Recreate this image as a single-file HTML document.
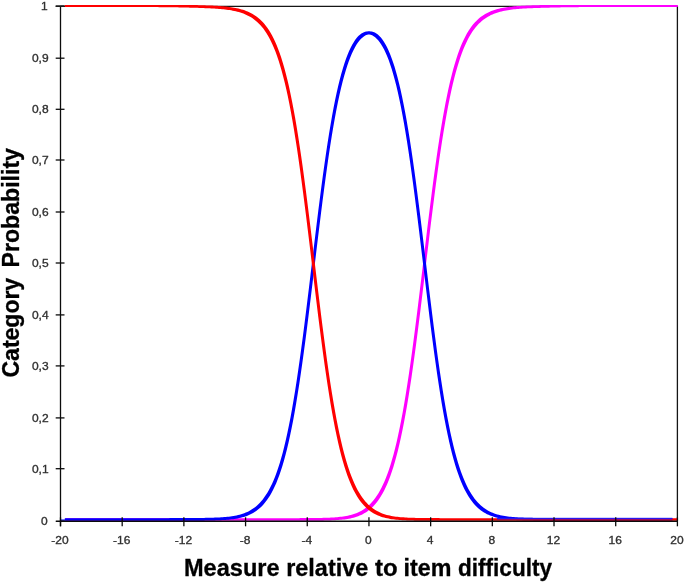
<!DOCTYPE html>
<html><head><meta charset="utf-8"><title>Category Probability</title>
<style>html,body{margin:0;padding:0;background:#fff;}svg{display:block}text{font-family:"Liberation Sans",sans-serif;}</style></head><body>
<svg width="685" height="582" viewBox="0 0 685 582">
<rect width="685" height="582" fill="#fff"/>
<defs><clipPath id="c"><path d="M60.50 5.0 H677.80 V521.10 H60.50 V519.4 H64.8 V100 H60.50 Z"/></clipPath></defs>
<path d="M60.50 6.30 H677.40 V521.30" fill="none" stroke="#151515" stroke-width="1.3"/>
<g clip-path="url(#c)" stroke="none">
<polygon fill="#ff00ff" points="65.32,520.85 65.32,518.15 66.85,518.15 68.37,518.15 69.90,518.15 71.43,518.15 72.95,518.15 74.48,518.15 76.01,518.15 77.53,518.15 79.06,518.15 80.59,518.15 82.11,518.15 83.64,518.15 85.17,518.15 86.69,518.15 88.22,518.15 89.75,518.15 91.28,518.15 92.80,518.15 94.33,518.15 95.86,518.15 97.38,518.15 98.91,518.15 100.44,518.15 101.96,518.15 103.49,518.15 105.02,518.15 106.54,518.15 108.07,518.15 109.60,518.15 111.12,518.15 112.65,518.15 114.18,518.15 115.70,518.15 117.23,518.15 118.76,518.15 120.28,518.15 121.81,518.15 123.34,518.15 124.87,518.15 126.39,518.15 127.92,518.15 129.45,518.15 130.97,518.15 132.50,518.15 134.03,518.15 135.55,518.15 137.08,518.15 138.61,518.15 140.13,518.15 141.66,518.15 143.19,518.15 144.71,518.15 146.24,518.15 147.77,518.15 149.29,518.15 150.82,518.15 152.35,518.15 153.87,518.15 155.40,518.15 156.93,518.15 158.46,518.15 159.98,518.15 161.51,518.15 163.04,518.15 164.56,518.15 166.09,518.15 167.62,518.15 169.14,518.15 170.67,518.15 172.20,518.15 173.72,518.15 175.25,518.15 176.78,518.15 178.30,518.15 179.83,518.15 181.36,518.15 182.88,518.15 184.41,518.15 185.94,518.15 187.47,518.15 188.99,518.15 190.52,518.15 192.05,518.15 193.57,518.15 195.10,518.15 196.63,518.15 198.15,518.15 199.68,518.15 201.21,518.15 202.73,518.15 204.26,518.15 205.79,518.15 207.31,518.15 208.84,518.15 210.37,518.15 211.89,518.15 213.42,518.15 214.95,518.15 216.47,518.15 218.00,518.15 219.53,518.15 221.06,518.15 222.58,518.15 224.11,518.15 225.64,518.15 227.16,518.15 228.69,518.15 230.22,518.15 231.74,518.15 233.27,518.15 234.80,518.15 236.32,518.15 237.85,518.15 239.38,518.15 240.90,518.15 242.43,518.15 243.96,518.15 245.48,518.15 247.01,518.15 248.54,518.15 250.07,518.15 251.59,518.15 253.12,518.15 254.65,518.15 256.17,518.15 257.70,518.15 259.23,518.15 260.75,518.15 262.28,518.15 263.81,518.15 265.33,518.15 266.86,518.15 268.39,518.15 269.91,518.15 271.44,518.15 272.97,518.15 274.49,518.15 276.02,518.15 277.55,518.15 279.07,518.15 280.60,518.15 282.13,518.15 283.66,518.15 285.18,518.15 286.71,518.14 288.24,518.14 289.76,518.14 291.29,518.14 292.82,518.14 294.34,518.14 295.87,518.13 297.40,518.13 298.92,518.13 300.45,518.12 301.98,518.12 303.50,518.11 305.03,518.10 306.56,518.09 308.08,518.08 309.61,518.07 311.14,518.06 312.67,518.05 314.19,518.03 315.72,518.01 317.25,517.99 318.77,517.96 320.30,517.93 321.83,517.90 323.35,517.86 324.88,517.82 326.41,517.77 327.93,517.71 329.46,517.64 330.99,517.57 332.51,517.49 334.04,517.39 335.57,517.28 337.09,517.16 338.62,517.02 340.15,516.86 341.67,516.68 343.20,516.48 344.73,516.24 346.26,515.98 347.78,515.68 349.31,515.35 350.84,514.97 352.36,514.54 353.89,514.06 355.42,513.52 356.94,512.92 358.47,512.24 360.00,511.49 361.52,510.66 363.05,509.74 364.58,508.71 366.10,507.58 367.63,506.33 369.16,504.96 370.68,503.45 372.21,501.79 373.74,499.97 375.26,497.97 376.79,495.79 378.32,493.40 379.85,490.78 381.37,487.93 382.90,484.82 384.43,481.43 385.95,477.74 387.48,473.74 389.01,469.40 390.53,464.69 392.06,459.61 393.59,454.13 395.11,448.23 396.64,441.89 398.17,435.10 399.69,427.84 401.22,420.11 402.75,411.89 404.27,403.19 405.80,394.01 407.33,384.35 408.86,374.22 410.38,363.66 411.91,352.67 413.44,341.30 414.96,329.58 416.49,317.55 418.02,305.26 419.54,292.77 421.07,280.14 422.60,267.42 424.12,254.67 425.65,241.96 427.18,229.36 428.70,216.91 430.23,204.68 431.76,192.71 433.28,181.07 434.81,169.78 436.34,158.89 437.86,148.42 439.39,138.40 440.92,128.85 442.45,119.77 443.97,111.18 445.50,103.07 447.03,95.45 448.55,88.30 450.08,81.61 451.61,75.38 453.13,69.57 454.66,64.18 456.19,59.18 457.71,54.57 459.24,50.30 460.77,46.37 462.29,42.75 463.82,39.43 465.35,36.38 466.87,33.58 468.40,31.02 469.93,28.67 471.46,26.53 472.98,24.57 474.51,22.79 476.04,21.16 477.56,19.68 479.09,18.32 480.62,17.09 482.14,15.97 483.67,14.95 485.20,14.03 486.72,13.19 488.25,12.42 489.78,11.73 491.30,11.09 492.83,10.52 494.36,10.00 495.88,9.53 497.41,9.10 498.94,8.71 500.46,8.36 501.99,8.04 503.52,7.75 505.05,7.49 506.57,7.25 508.10,7.03 509.63,6.84 511.15,6.66 512.68,6.50 514.21,6.35 515.73,6.22 517.26,6.10 518.79,5.99 520.31,5.90 521.84,5.81 523.37,5.72 524.89,5.65 526.42,5.58 527.95,5.51 529.47,5.45 531.00,5.40 532.53,5.34 534.06,5.29 535.58,5.24 537.11,5.19 538.64,5.14 540.16,5.10 541.69,5.05 543.22,5.01 544.74,4.97 546.27,4.93 547.80,4.89 549.32,4.85 550.85,4.81 552.38,4.77 553.90,4.74 555.43,4.71 556.96,4.68 558.48,4.65 560.01,4.62 561.54,4.60 563.06,4.57 564.59,4.55 566.12,4.53 567.65,4.51 569.17,4.49 570.70,4.48 572.23,4.46 573.75,4.45 575.28,4.43 576.81,4.42 578.33,4.41 579.86,4.40 581.39,4.39 582.91,4.38 584.44,4.38 585.97,4.37 587.49,4.36 589.02,4.36 590.55,4.35 592.07,4.35 593.60,4.34 595.13,4.34 596.65,4.34 598.18,4.33 599.71,4.33 601.24,4.33 602.76,4.32 604.29,4.32 605.82,4.32 607.34,4.32 608.87,4.32 610.40,4.31 611.92,4.31 613.45,4.31 614.98,4.31 616.50,4.31 618.03,4.31 619.56,4.31 621.08,4.31 622.61,4.31 624.14,4.31 625.66,4.31 627.19,4.30 628.72,4.30 630.25,4.30 631.77,4.30 633.30,4.30 634.83,4.30 636.35,4.30 637.88,4.30 639.41,4.30 640.93,4.30 642.46,4.30 643.99,4.30 645.51,4.30 647.04,4.30 648.57,4.30 650.09,4.30 651.62,4.30 653.15,4.30 654.67,4.30 656.20,4.30 657.73,4.30 659.25,4.30 660.78,4.30 662.31,4.30 663.84,4.30 665.36,4.30 666.89,4.30 668.42,4.30 669.94,4.30 671.47,4.30 673.00,4.30 674.52,4.30 676.05,4.30 678.75,4.30 678.75,7.00 677.22,7.00 675.70,7.00 674.17,7.00 672.64,7.00 671.12,7.00 669.59,7.00 668.06,7.00 666.54,7.00 665.01,7.00 663.48,7.00 661.95,7.00 660.43,7.00 658.90,7.00 657.37,7.00 655.85,7.00 654.32,7.00 652.79,7.00 651.27,7.00 649.74,7.00 648.21,7.00 646.69,7.00 645.16,7.00 643.63,7.00 642.11,7.00 640.58,7.00 639.05,7.00 637.53,7.00 636.00,7.00 634.47,7.00 632.95,7.00 631.42,7.00 629.89,7.00 628.36,7.01 626.84,7.01 625.31,7.01 623.78,7.01 622.26,7.01 620.73,7.01 619.20,7.01 617.68,7.01 616.15,7.01 614.62,7.01 613.10,7.01 611.57,7.02 610.04,7.02 608.52,7.02 606.99,7.02 605.46,7.02 603.94,7.03 602.41,7.03 600.88,7.03 599.35,7.04 597.83,7.04 596.30,7.04 594.77,7.05 593.25,7.05 591.72,7.06 590.19,7.06 588.67,7.07 587.14,7.08 585.61,7.08 584.09,7.09 582.56,7.10 581.03,7.11 579.51,7.12 577.98,7.13 576.45,7.15 574.93,7.16 573.40,7.18 571.87,7.19 570.35,7.21 568.82,7.23 567.29,7.25 565.76,7.27 564.24,7.30 562.71,7.32 561.18,7.35 559.66,7.38 558.13,7.41 556.60,7.44 555.08,7.47 553.55,7.51 552.02,7.55 550.50,7.59 548.97,7.63 547.44,7.67 545.92,7.71 544.39,7.75 542.86,7.80 541.34,7.84 539.81,7.89 538.28,7.94 536.76,7.99 535.23,8.04 533.70,8.10 532.17,8.15 530.65,8.21 529.12,8.28 527.59,8.35 526.07,8.42 524.54,8.51 523.01,8.60 521.49,8.69 519.96,8.80 518.43,8.92 516.91,9.05 515.38,9.20 513.85,9.36 512.33,9.54 510.80,9.73 509.27,9.95 507.75,10.19 506.22,10.45 504.69,10.74 503.16,11.06 501.64,11.41 500.11,11.80 498.58,12.23 497.06,12.70 495.53,13.22 494.00,13.79 492.48,14.43 490.95,15.12 489.42,15.89 487.90,16.73 486.37,17.65 484.84,18.67 483.32,19.79 481.79,21.02 480.26,22.38 478.74,23.86 477.21,25.49 475.68,27.27 474.16,29.23 472.63,31.37 471.10,33.72 469.57,36.28 468.05,39.08 466.52,42.13 464.99,45.45 463.47,49.07 461.94,53.00 460.41,57.27 458.89,61.88 457.36,66.88 455.83,72.27 454.31,78.08 452.78,84.31 451.25,91.00 449.73,98.15 448.20,105.77 446.67,113.88 445.15,122.47 443.62,131.55 442.09,141.10 440.56,151.12 439.04,161.59 437.51,172.48 435.98,183.77 434.46,195.41 432.93,207.38 431.40,219.61 429.88,232.06 428.35,244.66 426.82,257.37 425.30,270.12 423.77,282.84 422.24,295.47 420.72,307.96 419.19,320.25 417.66,332.28 416.14,344.00 414.61,355.37 413.08,366.36 411.56,376.92 410.03,387.05 408.50,396.71 406.97,405.89 405.45,414.59 403.92,422.81 402.39,430.54 400.87,437.80 399.34,444.59 397.81,450.93 396.29,456.83 394.76,462.31 393.23,467.39 391.71,472.10 390.18,476.44 388.65,480.44 387.13,484.13 385.60,487.52 384.07,490.63 382.55,493.48 381.02,496.10 379.49,498.49 377.96,500.67 376.44,502.67 374.91,504.49 373.38,506.15 371.86,507.66 370.33,509.03 368.80,510.28 367.28,511.41 365.75,512.44 364.22,513.36 362.70,514.19 361.17,514.94 359.64,515.62 358.12,516.22 356.59,516.76 355.06,517.24 353.54,517.67 352.01,518.05 350.48,518.38 348.96,518.68 347.43,518.94 345.90,519.18 344.37,519.38 342.85,519.56 341.32,519.72 339.79,519.86 338.27,519.98 336.74,520.09 335.21,520.19 333.69,520.27 332.16,520.34 330.63,520.41 329.11,520.47 327.58,520.52 326.05,520.56 324.53,520.60 323.00,520.63 321.47,520.66 319.95,520.69 318.42,520.71 316.89,520.73 315.37,520.75 313.84,520.76 312.31,520.77 310.78,520.78 309.26,520.79 307.73,520.80 306.20,520.81 304.68,520.82 303.15,520.82 301.62,520.83 300.10,520.83 298.57,520.83 297.04,520.84 295.52,520.84 293.99,520.84 292.46,520.84 290.94,520.84 289.41,520.84 287.88,520.85 286.36,520.85 284.83,520.85 283.30,520.85 281.77,520.85 280.25,520.85 278.72,520.85 277.19,520.85 275.67,520.85 274.14,520.85 272.61,520.85 271.09,520.85 269.56,520.85 268.03,520.85 266.51,520.85 264.98,520.85 263.45,520.85 261.93,520.85 260.40,520.85 258.87,520.85 257.35,520.85 255.82,520.85 254.29,520.85 252.77,520.85 251.24,520.85 249.71,520.85 248.18,520.85 246.66,520.85 245.13,520.85 243.60,520.85 242.08,520.85 240.55,520.85 239.02,520.85 237.50,520.85 235.97,520.85 234.44,520.85 232.92,520.85 231.39,520.85 229.86,520.85 228.34,520.85 226.81,520.85 225.28,520.85 223.76,520.85 222.23,520.85 220.70,520.85 219.17,520.85 217.65,520.85 216.12,520.85 214.59,520.85 213.07,520.85 211.54,520.85 210.01,520.85 208.49,520.85 206.96,520.85 205.43,520.85 203.91,520.85 202.38,520.85 200.85,520.85 199.33,520.85 197.80,520.85 196.27,520.85 194.75,520.85 193.22,520.85 191.69,520.85 190.17,520.85 188.64,520.85 187.11,520.85 185.58,520.85 184.06,520.85 182.53,520.85 181.00,520.85 179.48,520.85 177.95,520.85 176.42,520.85 174.90,520.85 173.37,520.85 171.84,520.85 170.32,520.85 168.79,520.85 167.26,520.85 165.74,520.85 164.21,520.85 162.68,520.85 161.16,520.85 159.63,520.85 158.10,520.85 156.57,520.85 155.05,520.85 153.52,520.85 151.99,520.85 150.47,520.85 148.94,520.85 147.41,520.85 145.89,520.85 144.36,520.85 142.83,520.85 141.31,520.85 139.78,520.85 138.25,520.85 136.73,520.85 135.20,520.85 133.67,520.85 132.15,520.85 130.62,520.85 129.09,520.85 127.57,520.85 126.04,520.85 124.51,520.85 122.98,520.85 121.46,520.85 119.93,520.85 118.40,520.85 116.88,520.85 115.35,520.85 113.82,520.85 112.30,520.85 110.77,520.85 109.24,520.85 107.72,520.85 106.19,520.85 104.66,520.85 103.14,520.85 101.61,520.85 100.08,520.85 98.56,520.85 97.03,520.85 95.50,520.85 93.98,520.85 92.45,520.85 90.92,520.85 89.39,520.85 87.87,520.85 86.34,520.85 84.81,520.85 83.29,520.85 81.76,520.85 80.23,520.85 78.71,520.85 77.18,520.85 75.65,520.85 74.13,520.85 72.60,520.85 71.07,520.85 69.55,520.85 68.02,520.85"/>
<polygon fill="#0000ff" points="59.15,520.85 59.15,518.15 60.69,518.15 62.23,518.15 63.78,518.15 65.32,518.15 66.86,518.15 68.40,518.15 69.95,518.15 71.49,518.15 73.03,518.15 74.57,518.15 76.11,518.15 77.66,518.15 79.20,518.15 80.74,518.15 82.28,518.15 83.83,518.15 85.37,518.15 86.91,518.15 88.45,518.15 89.99,518.15 91.54,518.15 93.08,518.15 94.62,518.15 96.16,518.15 97.71,518.15 99.25,518.15 100.79,518.15 102.33,518.15 103.88,518.15 105.42,518.15 106.96,518.15 108.50,518.15 110.04,518.15 111.59,518.15 113.13,518.15 114.67,518.15 116.21,518.15 117.76,518.15 119.30,518.15 120.84,518.15 122.38,518.15 123.92,518.15 125.47,518.15 127.01,518.15 128.55,518.15 130.09,518.15 131.64,518.15 133.18,518.15 134.72,518.15 136.26,518.15 137.80,518.15 139.35,518.15 140.89,518.15 142.43,518.15 143.97,518.15 145.52,518.14 147.06,518.14 148.60,518.14 150.14,518.14 151.69,518.14 153.23,518.14 154.77,518.14 156.31,518.14 157.85,518.14 159.40,518.14 160.94,518.14 162.48,518.13 164.02,518.13 165.57,518.13 167.11,518.13 168.65,518.13 170.19,518.12 171.73,518.12 173.28,518.12 174.82,518.11 176.36,518.11 177.90,518.11 179.45,518.10 180.99,518.10 182.53,518.09 184.07,518.08 185.61,518.08 187.16,518.07 188.70,518.06 190.24,518.05 191.78,518.04 193.33,518.03 194.87,518.02 196.41,518.00 197.95,517.98 199.49,517.97 201.04,517.95 202.58,517.92 204.12,517.90 205.66,517.87 207.21,517.84 208.75,517.80 210.29,517.76 211.83,517.72 213.38,517.67 214.92,517.61 216.46,517.54 218.00,517.47 219.54,517.39 221.09,517.30 222.63,517.20 224.17,517.08 225.71,516.95 227.26,516.80 228.80,516.63 230.34,516.44 231.88,516.23 233.42,515.99 234.97,515.72 236.51,515.41 238.05,515.06 239.59,514.67 241.14,514.23 242.68,513.74 244.22,513.19 245.76,512.58 247.30,511.89 248.85,511.13 250.39,510.28 251.93,509.34 253.47,508.30 255.02,507.15 256.56,505.88 258.10,504.48 259.64,502.94 261.18,501.25 262.73,499.39 264.27,497.36 265.81,495.12 267.35,492.68 268.90,490.01 270.44,487.09 271.98,483.90 273.52,480.43 275.06,476.64 276.61,472.54 278.15,468.08 279.69,463.25 281.23,458.03 282.78,452.39 284.32,446.33 285.86,439.81 287.40,432.83 288.95,425.37 290.49,417.43 292.03,408.99 293.57,400.06 295.11,390.63 296.66,380.73 298.20,370.36 299.74,359.55 301.28,348.32 302.83,336.71 304.37,324.76 305.91,312.52 307.45,300.04 308.99,287.38 310.54,274.59 312.08,261.75 313.62,248.92 315.16,236.16 316.71,223.53 318.25,211.09 319.79,198.91 321.33,187.03 322.87,175.51 324.42,164.38 325.96,153.67 327.50,143.42 329.04,133.66 330.59,124.38 332.13,115.61 333.67,107.36 335.21,99.61 336.75,92.36 338.30,85.61 339.84,79.35 341.38,73.55 342.92,68.22 344.47,63.32 346.01,58.84 347.55,54.77 349.09,51.08 350.64,47.76 352.18,44.79 353.72,42.16 355.26,39.84 356.80,37.83 358.35,36.12 359.89,34.69 361.43,33.53 362.97,32.63 364.52,32.00 366.06,31.62 367.60,31.49 370.30,31.49 370.30,34.19 368.76,34.32 367.22,34.70 365.67,35.33 364.13,36.23 362.59,37.39 361.05,38.82 359.50,40.53 357.96,42.54 356.42,44.86 354.88,47.49 353.34,50.46 351.79,53.78 350.25,57.47 348.71,61.54 347.17,66.02 345.62,70.92 344.08,76.25 342.54,82.05 341.00,88.31 339.46,95.06 337.91,102.31 336.37,110.06 334.83,118.31 333.29,127.08 331.74,136.36 330.20,146.12 328.66,156.37 327.12,167.08 325.57,178.21 324.03,189.73 322.49,201.61 320.95,213.79 319.41,226.23 317.86,238.86 316.32,251.62 314.78,264.45 313.24,277.29 311.69,290.08 310.15,302.74 308.61,315.22 307.07,327.46 305.53,339.41 303.98,351.02 302.44,362.25 300.90,373.06 299.36,383.43 297.81,393.33 296.27,402.76 294.73,411.69 293.19,420.13 291.65,428.07 290.10,435.53 288.56,442.51 287.02,449.03 285.48,455.09 283.93,460.73 282.39,465.95 280.85,470.78 279.31,475.24 277.76,479.34 276.22,483.13 274.68,486.60 273.14,489.79 271.60,492.71 270.05,495.38 268.51,497.82 266.97,500.06 265.43,502.09 263.88,503.95 262.34,505.64 260.80,507.18 259.26,508.58 257.72,509.85 256.17,511.00 254.63,512.04 253.09,512.98 251.55,513.83 250.00,514.59 248.46,515.28 246.92,515.89 245.38,516.44 243.84,516.93 242.29,517.37 240.75,517.76 239.21,518.11 237.67,518.42 236.12,518.69 234.58,518.93 233.04,519.14 231.50,519.33 229.96,519.50 228.41,519.65 226.87,519.78 225.33,519.90 223.79,520.00 222.24,520.09 220.70,520.17 219.16,520.24 217.62,520.31 216.07,520.37 214.53,520.42 212.99,520.46 211.45,520.50 209.91,520.54 208.36,520.57 206.82,520.60 205.28,520.62 203.74,520.65 202.19,520.67 200.65,520.68 199.11,520.70 197.57,520.72 196.03,520.73 194.48,520.74 192.94,520.75 191.40,520.76 189.86,520.77 188.31,520.78 186.77,520.78 185.23,520.79 183.69,520.80 182.15,520.80 180.60,520.81 179.06,520.81 177.52,520.81 175.98,520.82 174.43,520.82 172.89,520.82 171.35,520.83 169.81,520.83 168.27,520.83 166.72,520.83 165.18,520.83 163.64,520.84 162.10,520.84 160.55,520.84 159.01,520.84 157.47,520.84 155.93,520.84 154.38,520.84 152.84,520.84 151.30,520.84 149.76,520.84 148.22,520.84 146.67,520.85 145.13,520.85 143.59,520.85 142.05,520.85 140.50,520.85 138.96,520.85 137.42,520.85 135.88,520.85 134.34,520.85 132.79,520.85 131.25,520.85 129.71,520.85 128.17,520.85 126.62,520.85 125.08,520.85 123.54,520.85 122.00,520.85 120.46,520.85 118.91,520.85 117.37,520.85 115.83,520.85 114.29,520.85 112.74,520.85 111.20,520.85 109.66,520.85 108.12,520.85 106.58,520.85 105.03,520.85 103.49,520.85 101.95,520.85 100.41,520.85 98.86,520.85 97.32,520.85 95.78,520.85 94.24,520.85 92.69,520.85 91.15,520.85 89.61,520.85 88.07,520.85 86.53,520.85 84.98,520.85 83.44,520.85 81.90,520.85 80.36,520.85 78.81,520.85 77.27,520.85 75.73,520.85 74.19,520.85 72.65,520.85 71.10,520.85 69.56,520.85 68.02,520.85 66.48,520.85 64.93,520.85 63.39,520.85 61.85,520.85"/>
<polygon fill="#0000ff" points="367.60,31.49 370.30,31.49 371.81,31.61 373.32,31.98 374.83,32.59 376.35,33.44 377.86,34.56 379.37,35.93 380.88,37.58 382.39,39.50 383.90,41.72 385.41,44.24 386.93,47.08 388.44,50.25 389.95,53.78 391.46,57.66 392.97,61.93 394.48,66.60 395.99,71.69 397.51,77.21 399.02,83.17 400.53,89.60 402.04,96.50 403.55,103.88 405.06,111.75 406.57,120.11 408.09,128.96 409.60,138.28 411.11,148.08 412.62,158.33 414.13,169.00 415.64,180.07 417.15,191.51 418.66,203.26 420.18,215.29 421.69,227.55 423.20,239.97 424.71,252.51 426.22,265.09 427.73,277.67 429.24,290.17 430.76,302.55 432.27,314.74 433.78,326.69 435.29,338.35 436.80,349.68 438.31,360.65 439.82,371.21 441.34,381.34 442.85,391.02 444.36,400.24 445.87,408.99 447.38,417.26 448.89,425.07 450.40,432.40 451.92,439.27 453.43,445.70 454.94,451.69 456.45,457.26 457.96,462.44 459.47,467.24 460.98,471.67 462.50,475.77 464.01,479.55 465.52,483.02 467.03,486.22 468.54,489.16 470.05,491.85 471.56,494.32 473.08,496.58 474.59,498.64 476.10,500.53 477.61,502.25 479.12,503.82 480.63,505.25 482.14,506.55 483.66,507.74 485.17,508.81 486.68,509.78 488.19,510.66 489.70,511.46 491.21,512.17 492.72,512.82 494.24,513.40 495.75,513.91 497.26,514.38 498.77,514.79 500.28,515.16 501.79,515.49 503.30,515.78 504.82,516.04 506.33,516.27 507.84,516.48 509.35,516.66 510.86,516.82 512.37,516.97 513.88,517.09 515.39,517.21 516.91,517.31 518.42,517.40 519.93,517.47 521.44,517.54 522.95,517.61 524.46,517.66 525.97,517.71 527.49,517.76 529.00,517.80 530.51,517.83 532.02,517.86 533.53,517.89 535.04,517.92 536.55,517.94 538.07,517.96 539.58,517.98 541.09,518.00 542.60,518.01 544.11,518.02 545.62,518.04 547.13,518.05 548.65,518.06 550.16,518.07 551.67,518.07 553.18,518.08 554.69,518.09 556.20,518.09 557.71,518.10 559.23,518.10 560.74,518.11 562.25,518.11 563.76,518.12 565.27,518.12 566.78,518.12 568.29,518.12 569.81,518.13 571.32,518.13 572.83,518.13 574.34,518.13 575.85,518.13 577.36,518.14 578.87,518.14 580.39,518.14 581.90,518.14 583.41,518.14 584.92,518.14 586.43,518.14 587.94,518.14 589.45,518.14 590.97,518.14 592.48,518.14 593.99,518.15 595.50,518.15 597.01,518.15 598.52,518.15 600.03,518.15 601.54,518.15 603.06,518.15 604.57,518.15 606.08,518.15 607.59,518.15 609.10,518.15 610.61,518.15 612.12,518.15 613.64,518.15 615.15,518.15 616.66,518.15 618.17,518.15 619.68,518.15 621.19,518.15 622.70,518.15 624.22,518.15 625.73,518.15 627.24,518.15 628.75,518.15 630.26,518.15 631.77,518.15 633.28,518.15 634.80,518.15 636.31,518.15 637.82,518.15 639.33,518.15 640.84,518.15 642.35,518.15 643.86,518.15 645.38,518.15 646.89,518.15 648.40,518.15 649.91,518.15 651.42,518.15 652.93,518.15 654.44,518.15 655.96,518.15 657.47,518.15 658.98,518.15 660.49,518.15 662.00,518.15 663.51,518.15 665.02,518.15 666.54,518.15 668.05,518.15 669.56,518.15 671.07,518.15 672.58,518.15 672.58,520.85 669.88,520.85 668.37,520.85 666.86,520.85 665.35,520.85 663.84,520.85 662.32,520.85 660.81,520.85 659.30,520.85 657.79,520.85 656.28,520.85 654.77,520.85 653.26,520.85 651.74,520.85 650.23,520.85 648.72,520.85 647.21,520.85 645.70,520.85 644.19,520.85 642.68,520.85 641.16,520.85 639.65,520.85 638.14,520.85 636.63,520.85 635.12,520.85 633.61,520.85 632.10,520.85 630.58,520.85 629.07,520.85 627.56,520.85 626.05,520.85 624.54,520.85 623.03,520.85 621.52,520.85 620.00,520.85 618.49,520.85 616.98,520.85 615.47,520.85 613.96,520.85 612.45,520.85 610.94,520.85 609.42,520.85 607.91,520.85 606.40,520.85 604.89,520.85 603.38,520.85 601.87,520.85 600.36,520.85 598.84,520.85 597.33,520.85 595.82,520.85 594.31,520.85 592.80,520.85 591.29,520.85 589.78,520.84 588.27,520.84 586.75,520.84 585.24,520.84 583.73,520.84 582.22,520.84 580.71,520.84 579.20,520.84 577.69,520.84 576.17,520.84 574.66,520.84 573.15,520.83 571.64,520.83 570.13,520.83 568.62,520.83 567.11,520.83 565.59,520.82 564.08,520.82 562.57,520.82 561.06,520.82 559.55,520.81 558.04,520.81 556.53,520.80 555.01,520.80 553.50,520.79 551.99,520.79 550.48,520.78 548.97,520.77 547.46,520.77 545.95,520.76 544.43,520.75 542.92,520.74 541.41,520.72 539.90,520.71 538.39,520.70 536.88,520.68 535.37,520.66 533.85,520.64 532.34,520.62 530.83,520.59 529.32,520.56 527.81,520.53 526.30,520.50 524.79,520.46 523.27,520.41 521.76,520.36 520.25,520.31 518.74,520.24 517.23,520.17 515.72,520.10 514.21,520.01 512.69,519.91 511.18,519.79 509.67,519.67 508.16,519.52 506.65,519.36 505.14,519.18 503.63,518.97 502.12,518.74 500.60,518.48 499.09,518.19 497.58,517.86 496.07,517.49 494.56,517.08 493.05,516.61 491.54,516.10 490.02,515.52 488.51,514.87 487.00,514.16 485.49,513.36 483.98,512.48 482.47,511.51 480.96,510.44 479.44,509.25 477.93,507.95 476.42,506.52 474.91,504.95 473.40,503.23 471.89,501.34 470.38,499.28 468.86,497.02 467.35,494.55 465.84,491.86 464.33,488.92 462.82,485.72 461.31,482.25 459.80,478.47 458.28,474.37 456.77,469.94 455.26,465.14 453.75,459.96 452.24,454.39 450.73,448.40 449.22,441.97 447.70,435.10 446.19,427.77 444.68,419.96 443.17,411.69 441.66,402.94 440.15,393.72 438.64,384.04 437.12,373.91 435.61,363.35 434.10,352.38 432.59,341.05 431.08,329.39 429.57,317.44 428.06,305.25 426.54,292.87 425.03,280.37 423.52,267.79 422.01,255.21 420.50,242.67 418.99,230.25 417.48,217.99 415.96,205.96 414.45,194.21 412.94,182.77 411.43,171.70 409.92,161.03 408.41,150.78 406.90,140.98 405.39,131.66 403.87,122.81 402.36,114.45 400.85,106.58 399.34,99.20 397.83,92.30 396.32,85.87 394.81,79.91 393.29,74.39 391.78,69.30 390.27,64.63 388.76,60.36 387.25,56.48 385.74,52.95 384.23,49.78 382.71,46.94 381.20,44.42 379.69,42.20 378.18,40.28 376.67,38.63 375.16,37.26 373.65,36.14 372.13,35.29 370.62,34.68 369.11,34.31 367.60,34.19"/>
<polygon fill="#ff0000" points="64.55,4.30 67.25,4.30 68.78,4.30 70.31,4.30 71.83,4.30 73.36,4.30 74.89,4.30 76.42,4.30 77.95,4.30 79.48,4.30 81.01,4.30 82.54,4.30 84.06,4.30 85.59,4.30 87.12,4.30 88.65,4.30 90.18,4.30 91.71,4.30 93.24,4.30 94.77,4.30 96.29,4.30 97.82,4.30 99.35,4.30 100.88,4.30 102.41,4.30 103.94,4.30 105.47,4.30 107.00,4.30 108.52,4.30 110.05,4.30 111.58,4.31 113.11,4.31 114.64,4.31 116.17,4.31 117.70,4.31 119.23,4.31 120.75,4.31 122.28,4.31 123.81,4.31 125.34,4.31 126.87,4.31 128.40,4.32 129.93,4.32 131.46,4.32 132.98,4.32 134.51,4.32 136.04,4.33 137.57,4.33 139.10,4.33 140.63,4.33 142.16,4.34 143.69,4.34 145.21,4.35 146.74,4.35 148.27,4.35 149.80,4.36 151.33,4.37 152.86,4.37 154.39,4.38 155.92,4.39 157.44,4.40 158.97,4.41 160.50,4.42 162.03,4.43 163.56,4.44 165.09,4.45 166.62,4.47 168.15,4.49 169.67,4.50 171.20,4.52 172.73,4.54 174.26,4.56 175.79,4.59 177.32,4.61 178.85,4.64 180.38,4.67 181.90,4.70 183.43,4.73 184.96,4.76 186.49,4.80 188.02,4.83 189.55,4.87 191.08,4.91 192.61,4.95 194.13,4.99 195.66,5.04 197.19,5.08 198.72,5.13 200.25,5.17 201.78,5.22 203.31,5.27 204.84,5.32 206.36,5.38 207.89,5.43 209.42,5.49 210.95,5.56 212.48,5.62 214.01,5.70 215.54,5.78 217.07,5.86 218.59,5.96 220.12,6.06 221.65,6.18 223.18,6.31 224.71,6.45 226.24,6.61 227.77,6.78 229.30,6.97 230.82,7.18 232.35,7.41 233.88,7.66 235.41,7.94 236.94,8.25 238.47,8.60 240.00,8.97 241.53,9.39 243.05,9.85 244.58,10.35 246.11,10.91 247.64,11.52 249.17,12.19 250.70,12.94 252.23,13.76 253.76,14.66 255.28,15.65 256.81,16.74 258.34,17.93 259.87,19.25 261.40,20.69 262.93,22.28 264.46,24.02 265.99,25.92 267.51,28.01 269.04,30.30 270.57,32.79 272.10,35.52 273.63,38.50 275.16,41.75 276.69,45.28 278.22,49.13 279.74,53.30 281.27,57.82 282.80,62.71 284.33,67.99 285.86,73.68 287.39,79.80 288.92,86.37 290.45,93.40 291.97,100.90 293.50,108.88 295.03,117.35 296.56,126.30 298.09,135.73 299.62,145.64 301.15,156.00 302.68,166.80 304.20,177.99 305.73,189.56 307.26,201.46 308.79,213.64 310.32,226.05 311.85,238.64 313.38,251.34 314.91,264.10 316.43,276.85 317.96,289.53 319.49,302.08 321.02,314.44 322.55,326.55 324.08,338.37 325.61,349.85 327.14,360.95 328.67,371.64 330.19,381.88 331.72,391.67 333.25,400.99 334.78,409.82 336.31,418.16 337.84,426.02 339.37,433.40 340.90,440.31 342.42,446.76 343.95,452.77 345.48,458.36 347.01,463.54 348.54,468.34 350.07,472.77 351.60,476.85 353.13,480.62 354.65,484.07 356.18,487.25 357.71,490.16 359.24,492.83 360.77,495.28 362.30,497.51 363.83,499.55 365.36,501.41 366.88,503.10 368.41,504.65 369.94,506.05 371.47,507.33 373.00,508.48 374.53,509.53 376.06,510.47 377.59,511.33 379.11,512.09 380.64,512.78 382.17,513.40 383.70,513.95 385.23,514.45 386.76,514.88 388.29,515.27 389.82,515.62 391.34,515.92 392.87,516.19 394.40,516.43 395.93,516.64 397.46,516.83 398.99,516.99 400.52,517.14 402.05,517.26 403.57,517.37 405.10,517.47 406.63,517.56 408.16,517.63 409.69,517.70 411.22,517.76 412.75,517.81 414.28,517.85 415.80,517.89 417.33,517.93 418.86,517.96 420.39,517.98 421.92,518.01 423.45,518.03 424.98,518.04 426.51,518.06 428.03,518.07 429.56,518.08 431.09,518.09 432.62,518.10 434.15,518.11 435.68,518.11 437.21,518.12 438.74,518.12 440.26,518.13 441.79,518.13 443.32,518.13 444.85,518.14 446.38,518.14 447.91,518.14 449.44,518.14 450.97,518.14 452.49,518.14 454.02,518.15 455.55,518.15 457.08,518.15 458.61,518.15 460.14,518.15 461.67,518.15 463.20,518.15 464.72,518.15 466.25,518.15 467.78,518.15 469.31,518.15 470.84,518.15 472.37,518.15 473.90,518.15 475.43,518.15 476.95,518.15 478.48,518.15 480.01,518.15 481.54,518.15 483.07,518.15 484.60,518.15 486.13,518.15 487.66,518.15 489.18,518.15 490.71,518.15 492.24,518.15 493.77,518.15 495.30,518.15 496.83,518.15 498.36,518.15 499.89,518.15 501.41,518.15 502.94,518.15 504.47,518.15 506.00,518.15 507.53,518.15 509.06,518.15 510.59,518.15 512.12,518.15 513.64,518.15 515.17,518.15 516.70,518.15 518.23,518.15 519.76,518.15 521.29,518.15 522.82,518.15 524.35,518.15 525.87,518.15 527.40,518.15 528.93,518.15 530.46,518.15 531.99,518.15 533.52,518.15 535.05,518.15 536.58,518.15 538.10,518.15 539.63,518.15 541.16,518.15 542.69,518.15 544.22,518.15 545.75,518.15 547.28,518.15 548.81,518.15 550.33,518.15 551.86,518.15 553.39,518.15 554.92,518.15 556.45,518.15 557.98,518.15 559.51,518.15 561.04,518.15 562.56,518.15 564.09,518.15 565.62,518.15 567.15,518.15 568.68,518.15 570.21,518.15 571.74,518.15 573.27,518.15 574.79,518.15 576.32,518.15 577.85,518.15 579.38,518.15 580.91,518.15 582.44,518.15 583.97,518.15 585.50,518.15 587.02,518.15 588.55,518.15 590.08,518.15 591.61,518.15 593.14,518.15 594.67,518.15 596.20,518.15 597.73,518.15 599.25,518.15 600.78,518.15 602.31,518.15 603.84,518.15 605.37,518.15 606.90,518.15 608.43,518.15 609.96,518.15 611.48,518.15 613.01,518.15 614.54,518.15 616.07,518.15 617.60,518.15 619.13,518.15 620.66,518.15 622.19,518.15 623.71,518.15 625.24,518.15 626.77,518.15 628.30,518.15 629.83,518.15 631.36,518.15 632.89,518.15 634.42,518.15 635.94,518.15 637.47,518.15 639.00,518.15 640.53,518.15 642.06,518.15 643.59,518.15 645.12,518.15 646.65,518.15 648.17,518.15 649.70,518.15 651.23,518.15 652.76,518.15 654.29,518.15 655.82,518.15 657.35,518.15 658.88,518.15 660.40,518.15 661.93,518.15 663.46,518.15 664.99,518.15 666.52,518.15 668.05,518.15 669.58,518.15 671.11,518.15 672.63,518.15 674.16,518.15 675.69,518.15 677.22,518.15 678.75,518.15 678.75,520.85 676.05,520.85 674.52,520.85 672.99,520.85 671.46,520.85 669.93,520.85 668.41,520.85 666.88,520.85 665.35,520.85 663.82,520.85 662.29,520.85 660.76,520.85 659.23,520.85 657.70,520.85 656.18,520.85 654.65,520.85 653.12,520.85 651.59,520.85 650.06,520.85 648.53,520.85 647.00,520.85 645.47,520.85 643.95,520.85 642.42,520.85 640.89,520.85 639.36,520.85 637.83,520.85 636.30,520.85 634.77,520.85 633.24,520.85 631.72,520.85 630.19,520.85 628.66,520.85 627.13,520.85 625.60,520.85 624.07,520.85 622.54,520.85 621.01,520.85 619.49,520.85 617.96,520.85 616.43,520.85 614.90,520.85 613.37,520.85 611.84,520.85 610.31,520.85 608.78,520.85 607.26,520.85 605.73,520.85 604.20,520.85 602.67,520.85 601.14,520.85 599.61,520.85 598.08,520.85 596.55,520.85 595.03,520.85 593.50,520.85 591.97,520.85 590.44,520.85 588.91,520.85 587.38,520.85 585.85,520.85 584.32,520.85 582.80,520.85 581.27,520.85 579.74,520.85 578.21,520.85 576.68,520.85 575.15,520.85 573.62,520.85 572.09,520.85 570.57,520.85 569.04,520.85 567.51,520.85 565.98,520.85 564.45,520.85 562.92,520.85 561.39,520.85 559.86,520.85 558.34,520.85 556.81,520.85 555.28,520.85 553.75,520.85 552.22,520.85 550.69,520.85 549.16,520.85 547.63,520.85 546.11,520.85 544.58,520.85 543.05,520.85 541.52,520.85 539.99,520.85 538.46,520.85 536.93,520.85 535.40,520.85 533.88,520.85 532.35,520.85 530.82,520.85 529.29,520.85 527.76,520.85 526.23,520.85 524.70,520.85 523.17,520.85 521.65,520.85 520.12,520.85 518.59,520.85 517.06,520.85 515.53,520.85 514.00,520.85 512.47,520.85 510.94,520.85 509.42,520.85 507.89,520.85 506.36,520.85 504.83,520.85 503.30,520.85 501.77,520.85 500.24,520.85 498.71,520.85 497.19,520.85 495.66,520.85 494.13,520.85 492.60,520.85 491.07,520.85 489.54,520.85 488.01,520.85 486.48,520.85 484.96,520.85 483.43,520.85 481.90,520.85 480.37,520.85 478.84,520.85 477.31,520.85 475.78,520.85 474.25,520.85 472.73,520.85 471.20,520.85 469.67,520.85 468.14,520.85 466.61,520.85 465.08,520.85 463.55,520.85 462.02,520.85 460.50,520.85 458.97,520.85 457.44,520.85 455.91,520.85 454.38,520.85 452.85,520.85 451.32,520.85 449.79,520.84 448.27,520.84 446.74,520.84 445.21,520.84 443.68,520.84 442.15,520.84 440.62,520.83 439.09,520.83 437.56,520.83 436.04,520.82 434.51,520.82 432.98,520.81 431.45,520.81 429.92,520.80 428.39,520.79 426.86,520.78 425.33,520.77 423.81,520.76 422.28,520.74 420.75,520.73 419.22,520.71 417.69,520.68 416.16,520.66 414.63,520.63 413.10,520.59 411.58,520.55 410.05,520.51 408.52,520.46 406.99,520.40 405.46,520.33 403.93,520.26 402.40,520.17 400.87,520.07 399.35,519.96 397.82,519.84 396.29,519.69 394.76,519.53 393.23,519.34 391.70,519.13 390.17,518.89 388.64,518.62 387.12,518.32 385.59,517.97 384.06,517.58 382.53,517.15 381.00,516.65 379.47,516.10 377.94,515.48 376.41,514.79 374.89,514.03 373.36,513.17 371.83,512.23 370.30,511.18 368.77,510.03 367.24,508.75 365.71,507.35 364.18,505.80 362.66,504.11 361.13,502.25 359.60,500.21 358.07,497.98 356.54,495.53 355.01,492.86 353.48,489.95 351.95,486.77 350.43,483.32 348.90,479.55 347.37,475.47 345.84,471.04 344.31,466.24 342.78,461.06 341.25,455.47 339.72,449.46 338.20,443.01 336.67,436.10 335.14,428.72 333.61,420.86 332.08,412.52 330.55,403.69 329.02,394.37 327.49,384.58 325.97,374.34 324.44,363.65 322.91,352.55 321.38,341.07 319.85,329.25 318.32,317.14 316.79,304.78 315.26,292.23 313.73,279.55 312.21,266.80 310.68,254.04 309.15,241.34 307.62,228.75 306.09,216.34 304.56,204.16 303.03,192.26 301.50,180.69 299.98,169.50 298.45,158.70 296.92,148.34 295.39,138.43 293.86,129.00 292.33,120.05 290.80,111.58 289.27,103.60 287.75,96.10 286.22,89.07 284.69,82.50 283.16,76.38 281.63,70.69 280.10,65.41 278.57,60.52 277.04,56.00 275.52,51.83 273.99,47.98 272.46,44.45 270.93,41.20 269.40,38.22 267.87,35.49 266.34,33.00 264.81,30.71 263.29,28.62 261.76,26.72 260.23,24.98 258.70,23.39 257.17,21.95 255.64,20.63 254.11,19.44 252.58,18.35 251.06,17.36 249.53,16.46 248.00,15.64 246.47,14.89 244.94,14.22 243.41,13.61 241.88,13.05 240.35,12.55 238.83,12.09 237.30,11.67 235.77,11.30 234.24,10.95 232.71,10.64 231.18,10.36 229.65,10.11 228.12,9.88 226.60,9.67 225.07,9.48 223.54,9.31 222.01,9.15 220.48,9.01 218.95,8.88 217.42,8.76 215.89,8.66 214.37,8.56 212.84,8.48 211.31,8.40 209.78,8.32 208.25,8.26 206.72,8.19 205.19,8.13 203.66,8.08 202.14,8.02 200.61,7.97 199.08,7.92 197.55,7.87 196.02,7.83 194.49,7.78 192.96,7.74 191.43,7.69 189.91,7.65 188.38,7.61 186.85,7.57 185.32,7.53 183.79,7.50 182.26,7.46 180.73,7.43 179.20,7.40 177.68,7.37 176.15,7.34 174.62,7.31 173.09,7.29 171.56,7.26 170.03,7.24 168.50,7.22 166.97,7.20 165.45,7.19 163.92,7.17 162.39,7.15 160.86,7.14 159.33,7.13 157.80,7.12 156.27,7.11 154.74,7.10 153.22,7.09 151.69,7.08 150.16,7.07 148.63,7.07 147.10,7.06 145.57,7.05 144.04,7.05 142.51,7.05 140.99,7.04 139.46,7.04 137.93,7.03 136.40,7.03 134.87,7.03 133.34,7.03 131.81,7.02 130.28,7.02 128.76,7.02 127.23,7.02 125.70,7.02 124.17,7.01 122.64,7.01 121.11,7.01 119.58,7.01 118.05,7.01 116.53,7.01 115.00,7.01 113.47,7.01 111.94,7.01 110.41,7.01 108.88,7.01 107.35,7.00 105.82,7.00 104.30,7.00 102.77,7.00 101.24,7.00 99.71,7.00 98.18,7.00 96.65,7.00 95.12,7.00 93.59,7.00 92.07,7.00 90.54,7.00 89.01,7.00 87.48,7.00 85.95,7.00 84.42,7.00 82.89,7.00 81.36,7.00 79.84,7.00 78.31,7.00 76.78,7.00 75.25,7.00 73.72,7.00 72.19,7.00 70.66,7.00 69.13,7.00 67.61,7.00 66.08,7.00 64.55,7.00"/>
</g>
<rect x="497" y="517.8" width="175.4" height="1.1" fill="#1a1aff"/>
<rect x="497" y="518.9" width="175.4" height="0.9" fill="#1a1aff" fill-opacity="0.5"/>
<rect x="61.00" y="519.9" width="615.90" height="1" fill="#000" fill-opacity="0.35"/>
<g stroke="#0c0c0c" stroke-width="1.3" fill="none">
<path d="M60.50 6.30 V526.30"/>
<path d="M56.00 521.30 H677.40"/>
<path d="M60.50 517.30 V526.30"/>
<path d="M122.19 517.30 V526.30"/>
<path d="M183.88 517.30 V526.30"/>
<path d="M245.57 517.30 V526.30"/>
<path d="M307.26 517.30 V526.30"/>
<path d="M368.95 517.30 V526.30"/>
<path d="M430.64 517.30 V526.30"/>
<path d="M492.33 517.30 V526.30"/>
<path d="M554.02 517.30 V526.30"/>
<path d="M615.71 517.30 V526.30"/>
<path d="M677.40 517.30 V526.30"/>
<path d="M55.70 521.30 H64.50"/>
<path d="M55.70 468.70 H64.50"/>
<path d="M55.70 417.90 H64.50"/>
<path d="M55.70 365.90 H64.50"/>
<path d="M55.70 314.90 H64.50"/>
<path d="M55.70 263.00 H64.50"/>
<path d="M55.70 212.00 H64.50"/>
<path d="M55.70 160.00 H64.50"/>
<path d="M55.70 109.30 H64.50"/>
<path d="M55.70 58.20 H64.50"/>
<path d="M55.70 6.30 H64.50"/>
</g>
<rect x="55.7" y="5.4" width="8.6" height="1.6" fill="#1a1a1a"/>
<g fill="#303030" stroke="#303030" stroke-width="0.35" font-size="12px">
<text text-anchor="middle" transform="translate(60.00,544.0) scale(1.0,0.96)">-20</text>
<text text-anchor="middle" transform="translate(121.69,544.0) scale(1.0,0.96)">-16</text>
<text text-anchor="middle" transform="translate(183.38,544.0) scale(1.0,0.96)">-12</text>
<text text-anchor="middle" transform="translate(245.07,544.0) scale(1.0,0.96)">-8</text>
<text text-anchor="middle" transform="translate(306.76,544.0) scale(1.0,0.96)">-4</text>
<text text-anchor="middle" transform="translate(368.45,544.0) scale(1.0,0.96)">0</text>
<text text-anchor="middle" transform="translate(430.14,544.0) scale(1.0,0.96)">4</text>
<text text-anchor="middle" transform="translate(491.83,544.0) scale(1.0,0.96)">8</text>
<text text-anchor="middle" transform="translate(553.52,544.0) scale(1.0,0.96)">12</text>
<text text-anchor="middle" transform="translate(615.21,544.0) scale(1.0,0.96)">16</text>
<text text-anchor="middle" transform="translate(676.90,544.0) scale(1.0,0.96)">20</text>
<text text-anchor="end" transform="translate(47.80,525.10) scale(1.0,0.96)">0</text>
<text text-anchor="end" transform="translate(48.60,472.50) scale(1.0,0.96)">0,1</text>
<text text-anchor="end" transform="translate(48.60,421.70) scale(1.0,0.96)">0,2</text>
<text text-anchor="end" transform="translate(48.60,369.70) scale(1.0,0.96)">0,3</text>
<text text-anchor="end" transform="translate(48.60,318.70) scale(1.0,0.96)">0,4</text>
<text text-anchor="end" transform="translate(48.60,266.80) scale(1.0,0.96)">0,5</text>
<text text-anchor="end" transform="translate(48.60,215.80) scale(1.0,0.96)">0,6</text>
<text text-anchor="end" transform="translate(48.60,163.80) scale(1.0,0.96)">0,7</text>
<text text-anchor="end" transform="translate(48.60,113.10) scale(1.0,0.96)">0,8</text>
<text text-anchor="end" transform="translate(48.60,62.00) scale(1.0,0.96)">0,9</text>
<text text-anchor="end" transform="translate(47.80,10.10) scale(1.0,0.96)">1</text>
</g>
<g font-weight="bold" font-size="23px" fill="#000" stroke="#000" stroke-width="0.3">
<text y="575.7"><tspan x="183.96" textLength="95.63" lengthAdjust="spacingAndGlyphs">Measure</tspan> <tspan x="286.23" textLength="82.05" lengthAdjust="spacingAndGlyphs">relative</tspan> <tspan x="374.99" textLength="22.66" lengthAdjust="spacingAndGlyphs">to</tspan> <tspan x="403.48" textLength="47.88" lengthAdjust="spacingAndGlyphs">item</tspan> <tspan x="458.02" textLength="93.98" lengthAdjust="spacingAndGlyphs">difficulty</tspan></text>
<text transform="translate(18.75,0) rotate(-90) scale(1,1.075)" y="0"><tspan x="-377.50" textLength="99.65" lengthAdjust="spacingAndGlyphs">Category</tspan> <tspan x="-267.51" textLength="119.47" lengthAdjust="spacingAndGlyphs">Probability</tspan></text>
</g>
</svg></body></html>
